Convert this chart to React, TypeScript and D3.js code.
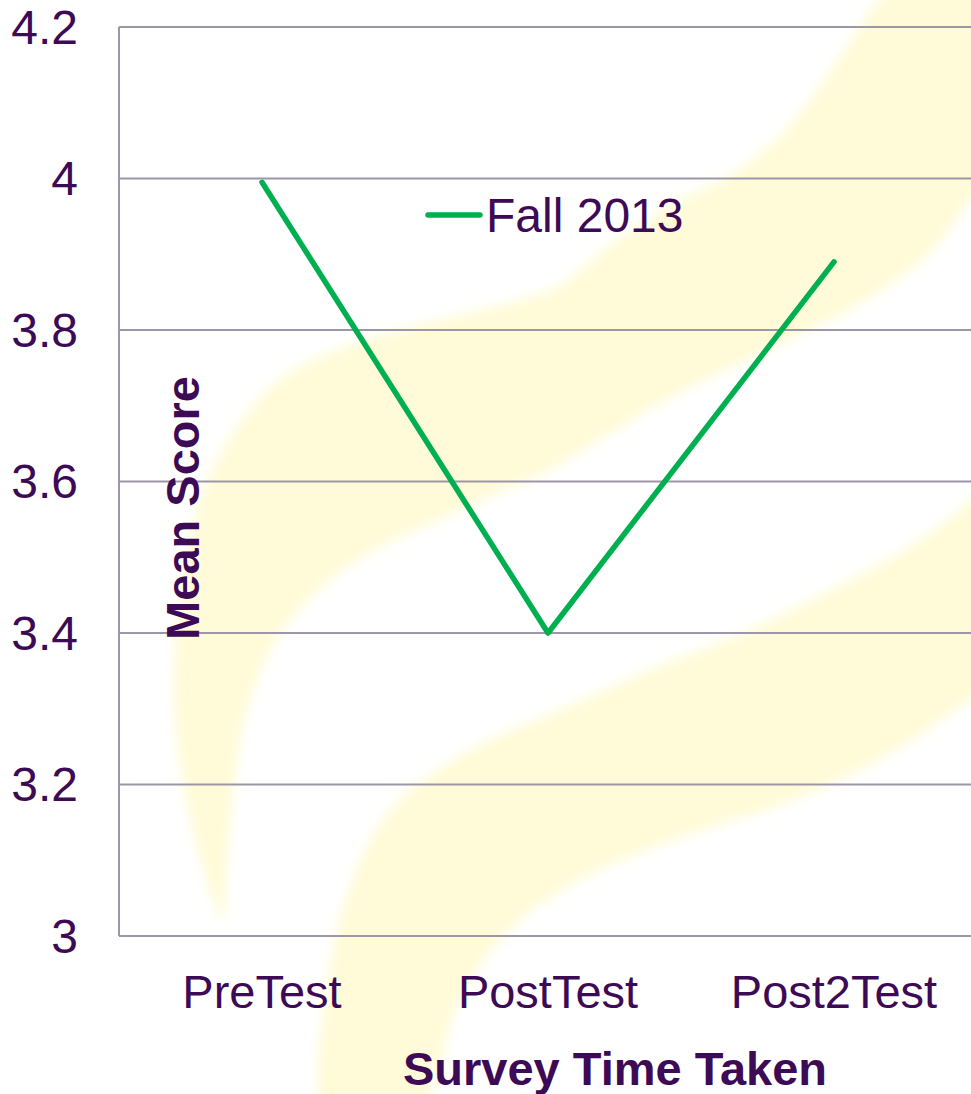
import * as d3 from "d3";

// chart values
const categories = ["PreTest", "PostTest", "Post2Test"];
const fall2013 = [3.995, 3.4, 3.89];
const yTicks = [3, 3.2, 3.4, 3.6, 3.8, 4, 4.2];
const seriesName = "Fall 2013";

// faint yellow watermark swooshes behind the plot (decoration only)
const swooshUpper: [number, number][] = [
  [223, 921], [190, 820], [174, 700], [180, 600], [200, 500], [233, 433],
  [283, 377], [350, 345], [417, 325], [500, 305], [560, 285], [610, 245],
  [667, 207], [733, 173], [783, 133], [833, 67], [880, 0], [940, -40],
  [1010, -40], [1010, 160], [971, 200], [933, 250], [867, 300], [800, 335],
  [733, 367], [667, 400], [600, 440], [550, 470], [450, 515], [350, 565],
  [283, 630], [250, 700], [235, 780], [227, 870],
];
const swooshLower: [number, number][] = [
  [318, 1094], [325, 1000], [345, 900], [390, 810], [470, 750], [560, 710],
  [650, 670], [750, 630], [850, 580], [920, 540], [971, 500], [1010, 470],
  [1010, 680], [971, 700], [900, 748], [800, 798], [680, 838], [580, 880],
  [510, 930], [460, 1000], [430, 1094], [400, 1130], [330, 1130],
];

const W = 971;
const H = 1094;
const margin = { top: 27, right: -6, bottom: 158, left: 119 };

const textColor = "#3d0a55";
const gridColor = "#9d96a8";
const lineColor = "#00b050";
const font = "'Liberation Sans', Arial, sans-serif";

export default function App() {
  const x = d3
    .scaleBand<string>()
    .domain(categories)
    .range([margin.left, W - margin.right])
    .paddingInner(0)
    .paddingOuter(0);

  const y = d3
    .scaleLinear()
    .domain([3, 4.2])
    .range([H - margin.bottom, margin.top]);

  const cx = (c: string) => (x(c) ?? 0) + x.bandwidth() / 2;

  const line = d3
    .line<number>()
    .x((_, i) => cx(categories[i]))
    .y((d) => y(d));

  const swoosh = d3.line().curve(d3.curveCatmullRomClosed.alpha(0.5));
  const fmt = d3.format("");

  const plotRight = W - margin.right;
  const legendY = 215;

  return (
    <svg
      width={W}
      height={H}
      style={{ position: "absolute", left: 0, top: 0, background: "#ffffff" }}
      fontFamily={font}
    >
      <defs>
        <filter id="soft" x="-10%" y="-10%" width="120%" height="120%">
          <feGaussianBlur stdDeviation="6" />
        </filter>
      </defs>

      {/* background watermark */}
      <g fill="#fffbd8" filter="url(#soft)">
        <path d={swoosh(swooshUpper) ?? ""} />
        <path d={swoosh(swooshLower) ?? ""} />
      </g>

      {/* gridlines */}
      <g stroke={gridColor} strokeWidth={2}>
        {yTicks.map((t) => (
          <line key={t} x1={margin.left} x2={plotRight} y1={y(t)} y2={y(t)} />
        ))}
        <line x1={margin.left} x2={margin.left} y1={y(4.2)} y2={y(3)} />
      </g>

      {/* y tick labels */}
      <g fill={textColor} fontSize={48} textAnchor="end">
        {yTicks.map((t) => (
          <text key={t} x={margin.left - 41} y={y(t)} dy="0.35em">
            {fmt(t)}
          </text>
        ))}
      </g>

      {/* x tick labels */}
      <g fill={textColor} fontSize={47} textAnchor="middle">
        {categories.map((c) => (
          <text key={c} x={cx(c)} y={y(3) + 72}>
            {c}
          </text>
        ))}
      </g>

      {/* axis titles */}
      <text
        x={615}
        y={1085}
        fill={textColor}
        fontSize={47}
        fontWeight="bold"
        textAnchor="middle"
      >
        Survey Time Taken
      </text>
      <text
        transform="translate(199,508) rotate(-90)"
        fill={textColor}
        fontSize={47}
        fontWeight="bold"
        textAnchor="middle"
      >
        Mean Score
      </text>

      {/* series */}
      <path
        d={line(fall2013) ?? ""}
        fill="none"
        stroke={lineColor}
        strokeWidth={5.5}
        strokeLinecap="round"
        strokeLinejoin="round"
      />

      {/* legend */}
      <line
        x1={428}
        x2={480}
        y1={legendY}
        y2={legendY}
        stroke={lineColor}
        strokeWidth={5.5}
        strokeLinecap="round"
      />
      <text x={486} y={legendY + 17} fill={textColor} fontSize={48}>
        {seriesName}
      </text>
    </svg>
  );
}
